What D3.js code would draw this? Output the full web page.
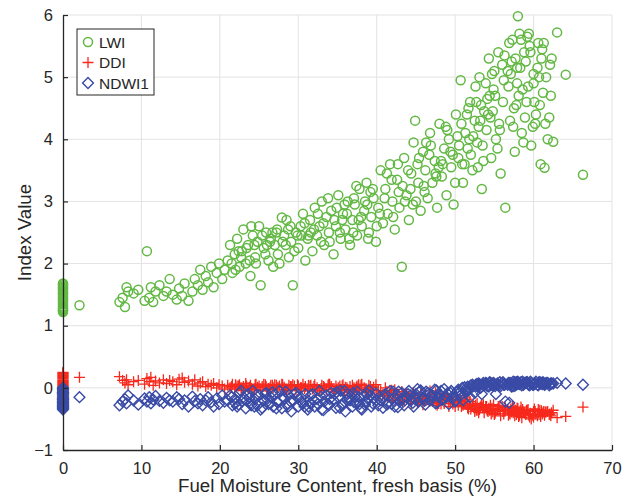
<!DOCTYPE html>
<html>
<head>
<meta charset="utf-8">
<script src="https://cdn.jsdelivr.net/npm/d3@7"></script>
<style>
	body { margin: 0; background: #fff; }
	text { font-family: "Liberation Sans", Arial, sans-serif; fill: #262626; }
</style>
</head>
<body>
<div class="chart"></div>
<script>
/*---------------------------DATA--------------------------*/

var moisture = [
	0,0,0,0,0,0,0,0,0,0, 0,0,0,0,0,0,0,0,0,0, 0,0,0,0,
	2.1,7.2,7.6,7.9,8.1,8.3,9.0,9.6,10.4,10.7, 11.0,11.2,11.5,11.8,12.3,12.8,13.2,13.6,14.0,14.5, 14.8,15.2,15.5,16.0,16.5,16.8,17.2,17.5,17.8,18.2, 18.5,18.9,19.2,19.6,19.9,20.3,20.6,
	21.0,21.3,21.6,21.9,22.2,22.5,22.8,23.0,23.3,23.6, 23.9,24.2,24.5,24.8,25.0,25.2,25.6,25.9,26.2,26.5, 26.8,27.0,27.3,27.6,27.9,28.2,28.5,28.8,29.1,29.3, 29.7,30.0,30.3,30.6,30.9,31.2, 21.5,22.0,22.7,23.4,24.0,24.6,25.4,26.0,26.7,27.4, 28.0,28.7,29.5,30.4,
	31.5,31.8,32.1,32.4,32.7,33.0,33.3,33.6,33.9,34.2, 34.5,34.8,35.1,35.4,35.7,36.0,36.3,36.6,36.9,37.2, 37.5,37.8,38.1,38.4,38.7,39.0,39.3,39.6,39.9,40.2, 32.0,32.9,33.8,34.6,35.3,36.2,37.0,37.7,38.5,39.2, 40.0,31.3,35.9,37.4,38.9,
	40.5,40.8,41.1,41.4,41.7,42.0,42.3,42.6,42.9,43.2, 43.5,43.8,44.1,44.4,44.7,45.0,45.3,45.6,45.9,46.2, 46.5,46.8,47.1,47.4,47.7,48.0,48.3,48.6,48.9,49.2, 49.5,49.8,50.1,50.4, 41.0,41.9,42.8,43.6,44.3,45.2,46.0,46.7,47.5,48.2, 48.8,49.4,50.0,44.9,46.3,47.9,
	50.7,51.0,51.3,51.6,51.9,52.2,52.5,52.8,53.1,53.4, 53.7,54.0,54.3,54.6,54.9,55.2,55.5,55.8,56.1,56.4, 50.9,51.5,52.0,52.6,53.0,53.5,54.1,54.5,55.0,55.6, 56.0,51.8,52.9,53.9,54.8,55.4,56.2,50.5,53.3,54.4,
	56.7,57.0,57.3,57.6,57.9,58.0,58.5,58.8,59.1,59.4, 59.7,60.0,60.3,60.6,60.9,61.2,61.4,61.8,62.1,62.5, 63.0,64.1,66.3,57.2,57.8,58.3,58.9,59.5,60.1,60.7, 61.5,56.9,58.6,59.9,61.0,62.2,57.5,
	22.4,23.8,24.4,25.8,26.4,27.2,28.4,29.0,29.9,30.8, 31.6,32.5,33.2,34.0,34.9,35.6,36.5,37.1,38.0,38.8, 39.5,40.4,41.3,42.1,42.7,43.3,44.0,44.6,45.4,46.1, 46.9,47.6,48.4,49.0,49.7,50.3,50.8,51.2,51.7,52.3, 52.7,53.2,53.6,54.2,54.7,55.1,55.7,56.3,56.8,57.1, 57.4,57.7,58.1,58.4,58.7,59.0,59.3,59.6,60.2,60.5, 60.8,61.1,61.6,62.0,62.3,59.2,58.2,57.9,60.0,61.3
];

var lwi = [
	1.22,1.24,1.27,1.29,1.31,1.34,1.36,1.39,1.41,1.43, 1.45,1.47,1.5,1.52,1.53,1.56,1.58,1.6,1.61,1.63, 1.65,1.67,1.68,1.25,
	1.33,1.38,1.45,1.3,1.62,1.55,1.52,1.58,1.4,2.2, 1.45,1.62,1.38,1.55,1.65,1.48,1.55,1.75,1.5,1.42, 1.6,1.48,1.68,1.4,1.55,1.75,1.65,1.9,1.58,1.8, 1.7,1.95,1.62,1.85,2.0,1.75,1.9,
	2.05,2.3,1.85,2.15,2.4,1.95,2.2,2.55,2.0,2.3, 1.8,2.45,2.1,2.35,2.6,1.65,2.25,2.5,2.05,2.4, 1.95,2.3,2.55,2.0,2.74,2.45,2.7,2.1,2.35,1.65, 2.5,2.25,2.6,2.8,2.05,2.4, 2.0,1.9,2.1,2.25,2.6,2.0,2.45,2.3,2.5,2.15, 2.35,2.55,2.2,2.45,
	2.7,2.2,2.9,2.45,2.6,3.0,2.3,2.75,2.5,2.85, 2.15,2.6,3.1,2.4,2.8,2.55,3.0,2.3,2.7,2.95, 2.45,3.2,2.6,2.85,3.3,2.5,2.75,3.05,2.35,2.9, 2.55,2.35,3.05,2.7,2.5,2.8,2.5,2.7,3.0,3.15, 2.6,2.45,2.95,3.25,2.4,
	3.5,2.65,3.2,2.8,3.6,3.0,2.55,3.35,2.9,1.95, 3.7,3.1,2.7,3.45,3.95,3.0,3.3,2.85,3.8,3.5, 3.05,4.1,3.3,3.65,2.9,4.25,3.4,3.85,3.1,4.0, 3.55,2.95,4.4,3.7, 3.05,3.35,3.15,3.0,3.2,3.6,3.25,3.75,3.45,3.65, 4.2,3.8,3.3,4.3,3.95,3.55,
	4.95,3.3,4.1,3.85,4.6,3.5,4.3,3.95,5.0,3.2, 4.45,4.15,5.3,3.7,4.8,4.0,5.4,3.45,4.6,2.9, 3.6,4.4,3.75,4.85,4.2,3.9,4.65,4.35,5.1,4.25, 5.2,4.0,3.55,4.9,4.45,3.85,4.95,3.9,4.55,4.7,
	5.1,4.3,5.6,3.8,4.9,5.98,4.1,5.4,4.6,5.7, 3.9,5.05,4.4,5.55,3.6,4.75,3.54,4.0,5.2,3.96, 5.72,5.04,3.43,5.25,4.55,5.15,4.35,5.5,4.6,5.0, 4.25,5.55,4.8,4.2,5.3,4.7,4.5,
	2.2,2.05,2.3,2.15,2.35,2.5,2.3,2.6,2.45,2.65, 2.5,2.8,2.65,2.35,2.9,2.7,2.4,3.05,2.75,2.95, 3.2,2.8,3.45,2.75,3.6,3.25,3.5,2.95,3.7,3.15, 3.9,3.4,3.6,4.15,3.75,4.05,4.25,3.6,4.5,4.05, 4.6,4.3,3.65,4.4,5.05,4.7,4.15,5.35,4.85,5.05, 4.2,5.3,4.7,5.6,3.95,5.25,4.85,5.4,4.25,5.15, 4.55,5.45,5.0,4.35,5.3,5.65,5.7,5.15,4.9,5.55
];

var ddi = [
	0.01,0.03,0.05,0.06,0.08,0.1,0.11,0.13,0.15,0.17, 0.18,0.2,0.21,0.23,0.24,0.25,0.02,0.07,0.12,0.16, 0.19,0.22,0.04,0.09,
	0.17,0.18,0.12,0.08,0.13,0.05,0.1,0.12,0.06,0.15, 0.1,0.17,0.04,0.11,0.08,0.13,0.07,0.12,0.1,0.05, 0.14,0.16,0.09,0.11,0.06,0.13,0.03,0.08,0.1,0.02, 0.06,0.04,0.07,0.0,0.05,0.03,-0.02,
	0.04,0.0,0.06,-0.02,0.03,0.05,-0.04,0.02,0.07,0.0, 0.04,-0.03,0.05,0.01,0.03,-0.05,0.06,0.02,-0.01,0.04, 0.0,0.05,-0.02,0.03,0.06,0.01,-0.04,0.04,0.02,0.05, -0.03,0.03,0.0,0.06,0.02,-0.05, 0.02,0.05,0.0,0.03,-0.01,0.06,0.02,-0.03,0.04,0.01, 0.05,-0.02,0.03,0.0,
	0.03,-0.02,0.05,0.0,-0.05,0.04,0.01,-0.03,0.06,0.02, -0.06,0.03,0.0,-0.04,0.05,0.01,-0.07,0.02,0.04,-0.02, 0.03,-0.05,0.06,0.0,-0.03,0.04,-0.08,0.01,0.05,-0.04, 0.02,-0.01,0.04,-0.06,0.03,0.0,-0.04,0.05,-0.02,0.02, -0.05,0.04,-0.03,0.01,-0.06,
	-0.05,-0.1,0.0,-0.15,-0.08,-0.2,-0.03,-0.12,-0.18,-0.06, -0.22,-0.1,-0.14,-0.25,-0.08,-0.16,-0.2,-0.1,-0.27,-0.13, -0.18,-0.05,-0.22,-0.15,-0.28,-0.1,-0.2,-0.25,-0.12,-0.3, -0.18,-0.23,-0.15,-0.28, -0.12,-0.04,-0.2,-0.1,-0.18,-0.24,-0.14,-0.21,-0.08,-0.26, -0.17,-0.22,-0.3,-0.12,-0.19,-0.25,
	-0.2,-0.28,-0.15,-0.32,-0.22,-0.3,-0.38,-0.25,-0.35,-0.28, -0.4,-0.3,-0.33,-0.42,-0.27,-0.36,-0.3,-0.45,-0.38,-0.32, -0.25,-0.18,-0.34,-0.28,-0.4,-0.32,-0.37,-0.28,-0.43,-0.35, -0.3,-0.26,-0.36,-0.3,-0.39,-0.34,-0.42,-0.22,-0.29,-0.36,
	-0.35,-0.42,-0.3,-0.45,-0.38,-0.33,-0.48,-0.4,-0.36,-0.44, -0.5,-0.38,-0.42,-0.35,-0.46,-0.4,-0.44,-0.38,-0.42,-0.36, -0.48,-0.46,-0.31,-0.39,-0.43,-0.37,-0.41,-0.47,-0.34,-0.43, -0.39,-0.41,-0.35,-0.44,-0.37,-0.45,-0.32,
	0.03,0.01,-0.02,0.05,0.0,0.04,-0.03,0.02,0.05,-0.01, 0.04,-0.04,0.02,0.06,-0.02,0.03,-0.05,0.0,0.04,-0.07, -0.03,-0.12,-0.06,-0.16,-0.1,-0.2,-0.13,-0.09,-0.22,-0.17, -0.11,-0.24,-0.19,-0.14,-0.26,-0.2,-0.3,-0.25,-0.34,-0.28, -0.36,-0.31,-0.27,-0.38,-0.33,-0.41,-0.29,-0.37,-0.44,-0.34, -0.4,-0.36,-0.46,-0.31,-0.39,-0.43,-0.35,-0.41,-0.38,-0.45, -0.36,-0.42,-0.39,-0.43,-0.4,-0.37,-0.44,-0.33,-0.47,-0.38
];

var ndwi1 = [
	-0.35,-0.33,-0.32,-0.3,-0.28,-0.26,-0.24,-0.22,-0.21,-0.19, -0.17,-0.15,-0.13,-0.11,-0.09,-0.07,-0.05,-0.03,-0.01,0.0, -0.29,-0.18,-0.08,-0.25,
	-0.15,-0.28,-0.22,-0.18,-0.25,-0.12,-0.2,-0.27,-0.17,-0.22, -0.15,-0.25,-0.19,-0.13,-0.21,-0.24,-0.16,-0.2,-0.22,-0.15, -0.18,-0.26,-0.2,-0.3,-0.14,-0.21,-0.25,-0.18,-0.28,-0.2, -0.15,-0.23,-0.3,-0.17,-0.26,-0.12,-0.22,
	-0.2,-0.12,-0.28,-0.18,-0.3,-0.08,-0.22,-0.15,-0.33,-0.1, -0.25,-0.05,-0.18,-0.28,-0.12,-0.35,-0.2,-0.08,-0.26,-0.15, -0.3,-0.1,-0.22,-0.05,-0.33,-0.17,-0.27,-0.12,-0.38,-0.2, -0.08,-0.3,-0.15,-0.25,-0.1,-0.35, -0.15,-0.25,-0.05,-0.2,-0.28,-0.12,-0.32,-0.18,-0.07,-0.24, -0.14,-0.3,-0.1,-0.22,
	-0.25,-0.1,-0.3,-0.18,-0.05,-0.35,-0.22,-0.12,-0.28,-0.08, -0.2,-0.32,-0.15,-0.05,-0.25,-0.38,-0.1,-0.2,-0.3,-0.14, -0.06,-0.26,-0.35,-0.12,-0.22,-0.04,-0.3,-0.17,-0.09,-0.28, -0.2,-0.14,-0.26,-0.1,-0.32,-0.2,-0.08,-0.15,-0.27,-0.12, -0.2,-0.3,-0.05,-0.24,-0.18,
	-0.2,-0.32,-0.1,-0.25,-0.05,-0.18,-0.3,-0.12,-0.22,-0.08, -0.28,-0.15,-0.05,-0.2,-0.3,-0.1,-0.22,-0.04,-0.16,-0.27, -0.08,-0.2,-0.12,-0.03,-0.24,-0.1,-0.18,-0.02,-0.15,-0.26, -0.05,-0.12,-0.2,-0.03, -0.15,-0.26,-0.06,-0.2,-0.12,-0.02,-0.18,-0.1,-0.25,-0.05, -0.14,-0.08,-0.22,-0.18,-0.06,-0.15,
	-0.12,-0.2,-0.05,0.02,-0.15,0.05,-0.08,0.03,0.06,-0.1, 0.04,0.07,0.02,0.05,0.08,-0.1,0.06,0.03,0.09,-0.22, 0.0,-0.06,0.04,0.02,0.07,0.05,0.03,0.08,0.06,0.04, 0.07,-0.02,0.06,0.08,0.04,0.07,0.05,-0.08,0.01,0.09,
	0.05,0.08,0.03,0.09,0.06,0.1,0.04,0.07,0.09,0.05, 0.08,0.06,0.1,0.04,0.07,0.09,0.05,0.08,0.06,0.07, 0.08,0.07,0.05,0.02,0.09,0.06,0.08,0.04,0.07,0.09, 0.06,-0.24,0.1,0.05,0.08,0.07,0.03,
	-0.27,-0.16,-0.3,-0.1,-0.24,-0.33,-0.06,-0.22,-0.14,-0.3, -0.12,-0.26,-0.36,-0.18,-0.07,-0.28,-0.16,-0.23,-0.33,-0.1, -0.25,-0.14,-0.27,-0.06,-0.31,-0.18,-0.1,-0.24,-0.07,-0.21, -0.12,-0.04,-0.19,-0.09,-0.16,-0.06,-0.1,0.01,-0.04,0.03, 0.06,0.0,0.08,0.04,0.07,0.03,0.09,0.05,0.08,0.06, 0.1,0.04,0.07,0.09,0.05,0.08,0.06,0.1,0.07,0.05, 0.09,0.06,0.08,0.04,0.07,0.09,0.06,0.08,0.05,0.07
];

var xTicks = [0, 10, 20, 30, 40, 50, 60, 70];
var yTicks = [-1, 0, 1, 2, 3, 4, 5, 6];
var seriesNames = ['LWI', 'DDI', 'NDWI1'];

/*---------------------------SETUP--------------------------*/

var w = 634;
var h = 502;
var plotL = 63, plotR = 612, plotT = 15, plotB = 450;
var axisColor = '#262626';
var gridColor = '#e3e3e3';
var green = '#62b843', red = '#f7281c', blue = '#3a4ba6';

var svg = d3.select('.chart').append('svg')
	.attr('width', w)
	.attr('height', h);

var x = d3.scaleLinear().domain([0, 70]).range([plotL, plotR]);
var y = d3.scaleLinear().domain([-1, 6]).range([plotB, plotT]);

/*---------------------------GRID--------------------------*/

svg.append('g').selectAll('line').data(xTicks.slice(1))
	.enter().append('line')
	.attr('x1', function(d){ return x(d); })
	.attr('x2', function(d){ return x(d); })
	.attr('y1', plotT).attr('y2', plotB)
	.attr('stroke', gridColor).attr('stroke-width', 1);

svg.append('g').selectAll('line').data(yTicks.slice(1))
	.enter().append('line')
	.attr('x1', plotL).attr('x2', plotR)
	.attr('y1', function(d){ return y(d); })
	.attr('y2', function(d){ return y(d); })
	.attr('stroke', gridColor).attr('stroke-width', 1);

/*---------------------------POINTS--------------------------*/

var idx = d3.range(moisture.length);

var crossPath = function(s){ return 'M' + (-s) + ',0H' + s + 'M0,' + (-s) + 'V' + s; };
var diamondPath = function(s){ return 'M0,' + (-s) + 'L' + s + ',0L0,' + s + 'L' + (-s) + ',0Z'; };

svg.append('g').selectAll('circle').data(idx)
	.enter().append('circle')
	.attr('cx', function(i){ return x(moisture[i]); })
	.attr('cy', function(i){ return y(lwi[i]); })
	.attr('r', 4.5)
	.attr('fill', 'none')
	.attr('stroke', green)
	.attr('stroke-width', 1.5);

svg.append('g').selectAll('path').data(idx)
	.enter().append('path')
	.attr('d', crossPath(5.5))
	.attr('transform', function(i){ return 'translate(' + x(moisture[i]) + ',' + y(ddi[i]) + ')'; })
	.attr('fill', 'none')
	.attr('stroke', red)
	.attr('stroke-width', 1.3);

svg.append('g').selectAll('path').data(idx)
	.enter().append('path')
	.attr('d', diamondPath(5.4))
	.attr('transform', function(i){ return 'translate(' + x(moisture[i]) + ',' + y(ndwi1[i]) + ')'; })
	.attr('fill', 'none')
	.attr('stroke', blue)
	.attr('stroke-width', 1.4);

/*---------------------------AXES--------------------------*/

var xAxis = svg.append('g')
	.attr('transform', 'translate(0,' + plotB + ')')
	.call(d3.axisBottom(x).tickValues(xTicks).tickFormat(d3.format('d'))
		.tickSize(-5).tickPadding(12).tickSizeOuter(0));

var yAxis = svg.append('g')
	.attr('transform', 'translate(' + plotL + ',0)')
	.call(d3.axisLeft(y).tickValues(yTicks).tickFormat(d3.format('d'))
		.tickSize(-5).tickPadding(10).tickSizeOuter(0));

[xAxis, yAxis].forEach(function(a){
	a.select('.domain').attr('stroke', axisColor).attr('stroke-width', 1.3);
	a.selectAll('.tick line').attr('stroke', axisColor).attr('stroke-width', 1.2);
	a.selectAll('.tick text')
		.attr('fill', axisColor)
		.style('font-size', '16.5px')
		.style('font-family', '"Liberation Sans", Arial, sans-serif');
});

svg.append('text')
	.attr('x', (plotL + plotR) / 2)
	.attr('y', 492)
	.attr('text-anchor', 'middle')
	.style('font-size', '18.7px')
	.text('Fuel Moisture Content, fresh basis (%)');

svg.append('text')
	.attr('transform', 'translate(31,' + ((plotT + plotB) / 2) + ') rotate(-90)')
	.attr('text-anchor', 'middle')
	.style('font-size', '18.7px')
	.text('Index Value');

/*---------------------------LEGEND--------------------------*/

var legend = svg.append('g').attr('transform', 'translate(77,29)');

legend.append('rect')
	.attr('x', 0).attr('y', 0)
	.attr('width', 77).attr('height', 66)
	.attr('fill', 'white')
	.attr('stroke', axisColor)
	.attr('stroke-width', 1);

var rows = legend.selectAll('.row').data(seriesNames)
	.enter().append('g')
	.attr('transform', function(d, i){ return 'translate(11,' + (13 + i * 20.5) + ')'; });

rows.filter(function(d, i){ return i === 0; }).append('circle')
	.attr('r', 4.5).attr('fill', 'none').attr('stroke', green).attr('stroke-width', 1.5);
rows.filter(function(d, i){ return i === 1; }).append('path')
	.attr('d', crossPath(5.5)).attr('fill', 'none').attr('stroke', red).attr('stroke-width', 1.3);
rows.filter(function(d, i){ return i === 2; }).append('path')
	.attr('d', diamondPath(5.4)).attr('fill', 'none').attr('stroke', blue).attr('stroke-width', 1.4);

rows.append('text')
	.attr('x', 11)
	.attr('y', 5.5)
	.style('font-size', '15.5px')
	.text(function(d){ return d; });
</script>
</body>
</html>
